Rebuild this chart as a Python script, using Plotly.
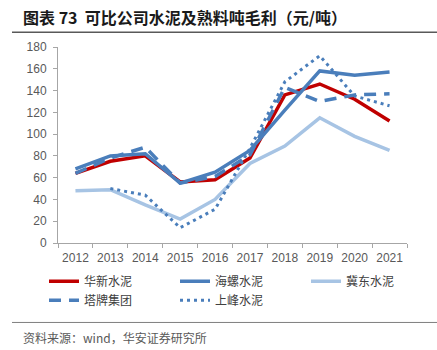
import plotly.graph_objects as go

years = ["2012", "2013", "2014", "2015", "2016", "2017", "2018", "2019", "2020", "2021"]
huaxin = [64, 75, 80, 56, 58, 78, 136, 146, 132, 112]
hailuo = [68, 80, 82, 55, 65, 85, 122, 158, 154, 157]
jidong = [48, 49, 35, 22, 40, 73, 89, 115, 98, 85]
tapai = [64, 78, 88, 55, 61, 81, 143, 130, 136, 137]
shangfeng = [None, 50, 44, 14, 31, 87, 148, 172, 135, 126]

series_names = ["华新水泥", "海螺水泥", "冀东水泥", "塔牌集团", "上峰水泥"]
series_vals = [huaxin, hailuo, jidong, tapai, shangfeng]
colors = ["#C00000", "#4A7EBB", "#A7C4E4", "#4A7EBB", "#4A7EBB"]
dashes = ["solid", "solid", "solid", "12px,8px", "3px,4px"]
widths = [3.5, 3.5, 3.5, 3.5, 3]

FONT = "Noto Sans CJK SC"
W, H = 437, 350
L, R, T, B = 58, 30, 46.7, 106.7
pw, ph = W - L - R, H - T - B

def px(x):
    return (x - L) / pw

def py(y):
    return (H - B - y) / ph

fig = go.Figure()
for name, vals, c, d, w in zip(series_names, series_vals, colors, dashes, widths):
    fig.add_trace(go.Scatter(x=years, y=vals, name=name, mode="lines",
                             line=dict(color=c, width=w, dash=d),
                             connectgaps=False))

fig.update_layout(
    width=W, height=H,
    margin=dict(l=L, r=R, t=T, b=B),
    paper_bgcolor="white", plot_bgcolor="white",
    font=dict(family=FONT, size=12, color="#595959"),
    showlegend=True,
    legend=dict(orientation="h", x=px(46), y=py(267), xanchor="left", yanchor="top",
                font=dict(family=FONT, size=12, color="#404040"),
                entrywidth=86, entrywidthmode="pixels",
                itemwidth=30, bgcolor="rgba(0,0,0,0)"),
    xaxis=dict(type="category", range=[-0.5, 9.5], showline=True, linecolor="#A6A6A6",
               linewidth=1, ticks="outside", ticklen=4, tickcolor="#A6A6A6",
               tickson="boundaries", showgrid=False, zeroline=False, tickangle=0,
               ticklabelstandoff=4,
               tickfont=dict(family="Arial, Liberation Sans", size=12, color="#595959")),
    yaxis=dict(range=[0, 180], dtick=20, showline=True, linecolor="#A6A6A6", linewidth=1,
               ticks="outside", ticklen=4, tickcolor="#A6A6A6", showgrid=False,
               zeroline=False, ticklabelstandoff=4,
               tickfont=dict(family="Arial, Liberation Sans", size=12, color="#595959")),
)

# title, separators, source
fig.add_annotation(text="<b>图表 73  可比公司水泥及熟料吨毛利（元/吨）</b>", xref="paper", yref="paper",
                   x=px(21), y=py(17), xanchor="left", yanchor="middle", showarrow=False,
                   font=dict(family=FONT, size=16, color="#1a1a1a"))
fig.add_shape(type="line", xref="paper", yref="paper", x0=px(12), x1=px(437), y0=py(32), y1=py(32),
              line=dict(color="#595959", width=1.5))
fig.add_shape(type="line", xref="paper", yref="paper", x0=px(12), x1=px(437), y0=py(323), y1=py(323),
              line=dict(color="#7F7F7F", width=1))
fig.add_annotation(text="资料来源：wind，华安证券研究所", xref="paper", yref="paper",
                   x=px(21), y=py(338), xanchor="left", yanchor="middle", showarrow=False,
                   font=dict(family=FONT, size=12, color="#595959"))

fig.write_html("out.html")
